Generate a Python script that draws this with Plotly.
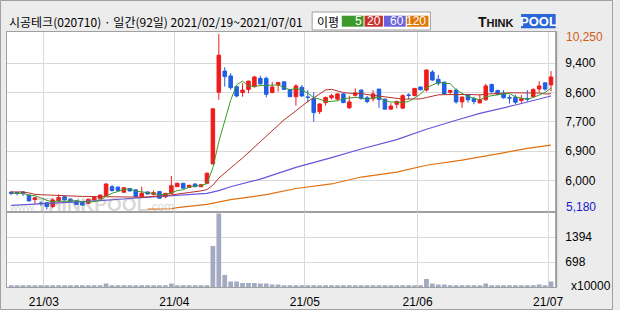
import plotly.graph_objects as go
import pandas as pd

W, H = 620, 310

# ---------------- data ----------------
month_labels = ["21/03", "21/04", "21/05", "21/06", "21/07"]
month_start_idx = [6, 28, 50, 69, 91]

opens = [5680, 5670, 5690, 5600, 5470, 5370, 5380, 5270, 5430, 5550,
         5480, 5430, 5410, 5360, 5460, 5490, 5580, 5840, 5830, 5680,
         5790, 5750, 5550, 5690, 5620, 5700, 5550, 5650, 5840, 5940,
         5820, 5920, 5840, 5940, 6500, 8570, 9180, 9040, 8730, 8560,
         8650, 8730, 8970, 8970, 8560, 8780, 8870, 8650, 8440, 8710,
         8430, 8390, 8010, 8270, 8410, 8370, 8520, 8120, 8480, 8630,
         8410, 8380, 8660, 8370, 8080, 8220, 8110, 8490, 8470, 8720,
         8630, 9150, 8940, 8860, 8570, 8630, 8290, 8480, 8380, 8260,
         8350, 8790, 8620, 8540, 8410, 8420, 8330, 8380, 8440, 8660,
         8840, 8780]
highs = [5720, 5690, 5700, 5610, 5550, 5410, 5390, 5510, 5620, 5560,
         5500, 5440, 5420, 5490, 5540, 5610, 5940, 5890, 5840, 5830,
         5800, 5760, 5840, 5700, 5730, 5720, 5660, 6150, 5950, 5950,
         5900, 5930, 5920, 6250, 8090, 10250, 9290, 9120, 8740, 8830,
         8900, 9040, 9040, 9020, 8870, 8870, 8880, 8660, 8800, 8780,
         8630, 8570, 8250, 8440, 8520, 8540, 8540, 8470, 8680, 8650,
         8460, 8630, 8660, 8380, 8250, 8330, 8510, 8540, 8690, 8730,
         9230, 9210, 9070, 8870, 8630, 8680, 8440, 8510, 8440, 8510,
         8810, 8820, 8640, 8630, 8490, 8490, 8490, 8630, 8680, 8890,
         8850, 9180]
lows = [5600, 5590, 5570, 5420, 5340, 5290, 5180, 5220, 5390, 5440,
        5390, 5310, 5300, 5340, 5450, 5480, 5570, 5700, 5720, 5670,
        5700, 5540, 5540, 5620, 5590, 5500, 5510, 5630, 5830, 5790,
        5810, 5830, 5830, 5920, 6490, 8350, 8730, 8640, 8420, 8440,
        8540, 8700, 8780, 8420, 8540, 8590, 8640, 8430, 8180, 8440,
        8270, 7720, 7940, 8180, 8360, 8330, 8250, 8090, 8440, 8350,
        8250, 8300, 8120, 8070, 8070, 8100, 8080, 8370, 8460, 8620,
        8590, 8890, 8760, 8490, 8490, 8240, 8120, 8270, 8220, 8250,
        8330, 8540, 8480, 8380, 8240, 8230, 8250, 8300, 8420, 8560,
        8610, 8590]
closes = [5650, 5660, 5640, 5430, 5520, 5360, 5270, 5460, 5530, 5460,
          5410, 5330, 5310, 5480, 5530, 5600, 5920, 5730, 5730, 5810,
          5720, 5550, 5650, 5630, 5670, 5510, 5650, 5870, 5940, 5800,
          5880, 5840, 5900, 6230, 8090, 9640, 9020, 8700, 8460, 8630,
          8890, 9010, 8810, 8510, 8720, 8850, 8650, 8440, 8750, 8460,
          8420, 7980, 8230, 8420, 8470, 8520, 8270, 8290, 8550, 8390,
          8300, 8520, 8360, 8080, 8170, 8300, 8470, 8480, 8680, 8640,
          9210, 8920, 8830, 8520, 8620, 8290, 8430, 8350, 8300, 8360,
          8750, 8590, 8510, 8410, 8400, 8280, 8380, 8370, 8650, 8750,
          8660, 9010]
# volume, unit x10000 shares
volumes = [35, 30, 35, 40, 35, 35, 40, 40, 35, 35,
           30, 35, 30, 35, 35, 40, 104, 40, 35, 35,
           30, 35, 40, 35, 30, 35, 35, 104, 40, 35,
           30, 35, 35, 45, 1153, 2060, 345, 159, 159, 122,
           122, 122, 104, 104, 76, 76, 45, 45, 60, 60,
           40, 60, 40, 40, 35, 35, 40, 35, 60, 35,
           35, 35, 35, 35, 35, 35, 35, 35, 35, 40,
           234, 104, 76, 76, 40, 35, 40, 35, 35, 40,
           104, 40, 35, 35, 35, 35, 40, 35, 40, 76,
           40, 159]

# moving averages (index, value)
ma20_head = [5690, 5690, 5690, 5660, 5620, 5610, 5600, 5590, 5580, 5580,
             5570, 5570, 5560, 5560, 5550, 5550, 5550, 5550, 5545]
ma60_idx = [0, 5, 10, 15, 20, 25, 30, 33, 35, 37, 42, 48, 54, 59, 65, 70, 75, 79, 85, 91]
ma60_val = [5300, 5340, 5390, 5440, 5500, 5560, 5610, 5650, 5730, 5840,
            6060, 6400, 6680, 6930, 7200, 7500, 7760, 7960, 8200, 8460]
ma120_idx = [23, 27, 28, 33, 37, 43, 48, 54, 59, 65, 70, 76, 82, 87, 91]
ma120_val = [5195, 5205, 5235, 5330, 5470, 5610, 5790, 5920, 6120, 6260,
             6460, 6610, 6790, 6950, 7040]

price_max, price_min = 10250, 5180
price_grid_vals = [9405, 8560, 7715, 6870, 6025]
price_grid_text = ["9,400", "8,600", "7,700", "6,900", "6,000"]
vol_grid_vals = [697, 1394]
vol_grid_text = ["698", "1394"]

title_text = "시공테크(020710) · 일간(92일) 2021/02/19~2021/07/01"

# ---------------- derived ----------------
idx = list(range(len(closes)))
cs = pd.Series(closes, dtype=float)
ma5 = cs.rolling(5, min_periods=1).mean().tolist()
ma20 = cs.rolling(20).mean().tolist()
ma20[:len(ma20_head)] = ma20_head

RED = "#f01c1c"
BLUE = "#1f5fe3"
C_MA5 = "#3a9a28"
C_MA20 = "#b8302a"
C_MA60 = "#6656dc"
C_MA120 = "#e07010"
GRID = "#d9d9d9"
FRAME = "#a0a0a0"


def px(x):
    return x / W


def py(y):
    return 1 - y / H


fig = go.Figure()

fig.add_trace(go.Scatter(x=ma120_idx, y=ma120_val, mode="lines",
                         line=dict(color=C_MA120, width=1.2), xaxis="x", yaxis="y",
                         showlegend=False, hoverinfo="skip"))
fig.add_trace(go.Scatter(x=ma60_idx, y=ma60_val, mode="lines",
                         line=dict(color=C_MA60, width=1.2), xaxis="x", yaxis="y",
                         showlegend=False, hoverinfo="skip"))
fig.add_trace(go.Scatter(x=idx, y=ma20, mode="lines",
                         line=dict(color=C_MA20, width=1), xaxis="x", yaxis="y",
                         showlegend=False, hoverinfo="skip"))
fig.add_trace(go.Scatter(x=idx, y=ma5, mode="lines",
                         line=dict(color=C_MA5, width=1), xaxis="x", yaxis="y",
                         showlegend=False, hoverinfo="skip"))

fig.add_trace(go.Candlestick(
    x=idx, open=opens, high=highs, low=lows, close=closes,
    increasing=dict(line=dict(color=RED, width=1), fillcolor=RED),
    decreasing=dict(line=dict(color=BLUE, width=1), fillcolor=BLUE),
    whiskerwidth=0, xaxis="x", yaxis="y", showlegend=False, hoverinfo="skip"))

fig.add_trace(go.Bar(x=idx, y=volumes, width=0.8, marker=dict(color="#a3abc2", line=dict(width=0)),
                     xaxis="x2", yaxis="y2", showlegend=False, hoverinfo="skip"))

xdom = [px(7.1), px(562.3)]
xrange_ = [-0.7, 91.83]
grid_x = [m - 0.5 for m in month_start_idx]

# price axis scale: 10250 at y=34, 5180 at y=209.6; panel 31.7..212.3
ppw = (209.6 - 34) / (price_max - price_min)
y_top = price_max + (34 - 31.7) / ppw
y_bot = price_min - (212.3 - 209.6) / ppw

axis_font = dict(family="Liberation Sans, Arial, sans-serif", size=12, color="#000000")

fig.update_layout(
    width=W, height=H, margin=dict(l=0, r=0, t=0, b=0),
    paper_bgcolor="#ececec", plot_bgcolor="#ffffff",
    boxgap=0.15,
    xaxis=dict(domain=xdom, range=xrange_, anchor="y", tickvals=grid_x, showticklabels=False,
               showgrid=True, gridcolor=GRID, gridwidth=1, zeroline=False,
               showline=True, mirror=True, linecolor=FRAME, linewidth=1,
               rangeslider=dict(visible=False), ticks=""),
    xaxis2=dict(domain=xdom, range=xrange_, anchor="y2", matches="x", tickvals=grid_x,
                ticktext=month_labels, showgrid=True, gridcolor=GRID, zeroline=False,
                showline=True, mirror=True, linecolor=FRAME, linewidth=1,
                ticks="outside", ticklen=3, tickcolor="rgba(0,0,0,0)", tickfont=axis_font),
    yaxis=dict(domain=[py(212.3), py(31.7)], range=[y_bot, y_top], side="right", anchor="x",
               tickvals=price_grid_vals, ticktext=price_grid_text, showgrid=True,
               gridcolor=GRID, zeroline=False, showline=True, mirror=True,
               linecolor=FRAME, linewidth=1, ticks="outside", ticklen=6,
               tickcolor="rgba(0,0,0,0)", tickfont=axis_font),
    yaxis2=dict(domain=[py(287.3), py(212.3)], range=[0, 2090], side="right", anchor="x2",
                tickvals=vol_grid_vals, ticktext=vol_grid_text, showgrid=True,
                gridcolor=GRID, zeroline=False, showline=True, mirror=True,
                linecolor=FRAME, linewidth=1, ticks="outside", ticklen=6,
                tickcolor="rgba(0,0,0,0)", tickfont=axis_font),
)

shapes = []
annotations = []

# outer border
shapes.append(dict(type="rect", xref="paper", yref="paper", x0=px(0.5), x1=px(619.5),
                   y0=py(309.5), y1=py(0.5), line=dict(color="#a0a0a0", width=1)))
# thicker right frame
shapes.append(dict(type="line", xref="paper", yref="paper", x0=px(562.5), x1=px(562.5),
                   y0=py(287.3), y1=py(31.7), line=dict(color="#9a9a9a", width=2)))

# header title
annotations.append(dict(text=title_text, xref="paper", yref="paper", x=px(7), y=py(22),
                        xanchor="left", yanchor="middle", showarrow=False,
                        font=dict(family="Noto Sans CJK KR", size=12, color="#000000")))

# legend box
shapes.append(dict(type="rect", xref="paper", yref="paper", x0=px(315.7), x1=px(435.3),
                   y0=py(30), y1=py(12), fillcolor="#ffffff", line=dict(color="#a0a0a0", width=1)))
annotations.append(dict(text="이평", xref="paper", yref="paper", x=px(319), y=py(21),
                        xanchor="left", yanchor="middle", showarrow=False,
                        font=dict(family="Noto Sans CJK KR", size=12, color="#000000")))
leg = [("5", "#3c9a28", 345.7, 367.7), ("20", "#c8302c", 368.7, 387.3),
       ("60", "#6a62dc", 388.3, 410.3), ("120", "#e07808", 411.5, 433.3)]
for txt, col, x0, x1 in leg:
    shapes.append(dict(type="rect", xref="paper", yref="paper", x0=px(x0), x1=px(x1),
                       y0=py(26.7), y1=py(15.7), fillcolor=col, line=dict(width=0)))
    annotations.append(dict(text=txt, xref="paper", yref="paper", x=px(x1), y=py(21.3),
                            xanchor="right", yanchor="middle", showarrow=False,
                            font=dict(family="Liberation Sans, Arial", size=12, color="#ffffff")))

# THINKPOOL logo
annotations.append(dict(text="<b>T<span style='font-size:11px'>HINK</span></b>", xref="paper", yref="paper",
                        x=px(481), y=py(22), xanchor="left", yanchor="middle", showarrow=False,
                        font=dict(family="Liberation Sans, Arial", size=14, color="#111111")))
shapes.append(dict(type="rect", xref="paper", yref="paper", x0=px(527), x1=px(562),
                   y0=py(28.3), y1=py(14), fillcolor="#2a66d8", line=dict(width=0)))
annotations.append(dict(text="<b>POOL</b>", xref="paper", yref="paper",
                        x=px(544.5), y=py(21.5), xanchor="center", yanchor="middle", showarrow=False,
                        font=dict(family="Liberation Sans, Arial", size=13, color="#ffffff")))

# watermark
annotations.append(dict(text="<span style='font-size:11px'>www.</span><b>THINKPOOL</b><span style='font-size:12px'>.com</span>",
                        xref="paper", yref="paper", x=px(93), y=py(204), xanchor="center",
                        yanchor="middle", showarrow=False,
                        font=dict(family="Liberation Sans, Arial", size=19, color="rgba(120,120,120,0.30)")))

# max / min labels on the price axis
annotations.append(dict(text="10,250", xref="paper", yref="y", x=px(570), y=price_max, yshift=-3,
                        xanchor="left", yanchor="middle", showarrow=False,
                        font=dict(family="Liberation Sans, Arial", size=12, color="#d06010")))
annotations.append(dict(text="5,180", xref="paper", yref="y", x=px(570), y=price_min, yshift=3,
                        xanchor="left", yanchor="middle", showarrow=False,
                        font=dict(family="Liberation Sans, Arial", size=12, color="#1a1ad0")))
annotations.append(dict(text="x10000", xref="paper", yref="paper", x=px(575), y=py(285.7),
                        xanchor="left", yanchor="middle", showarrow=False,
                        font=dict(family="Liberation Sans, Arial", size=12, color="#000000")))

fig.update_layout(shapes=shapes, annotations=annotations)

fig.write_html("out.html")
